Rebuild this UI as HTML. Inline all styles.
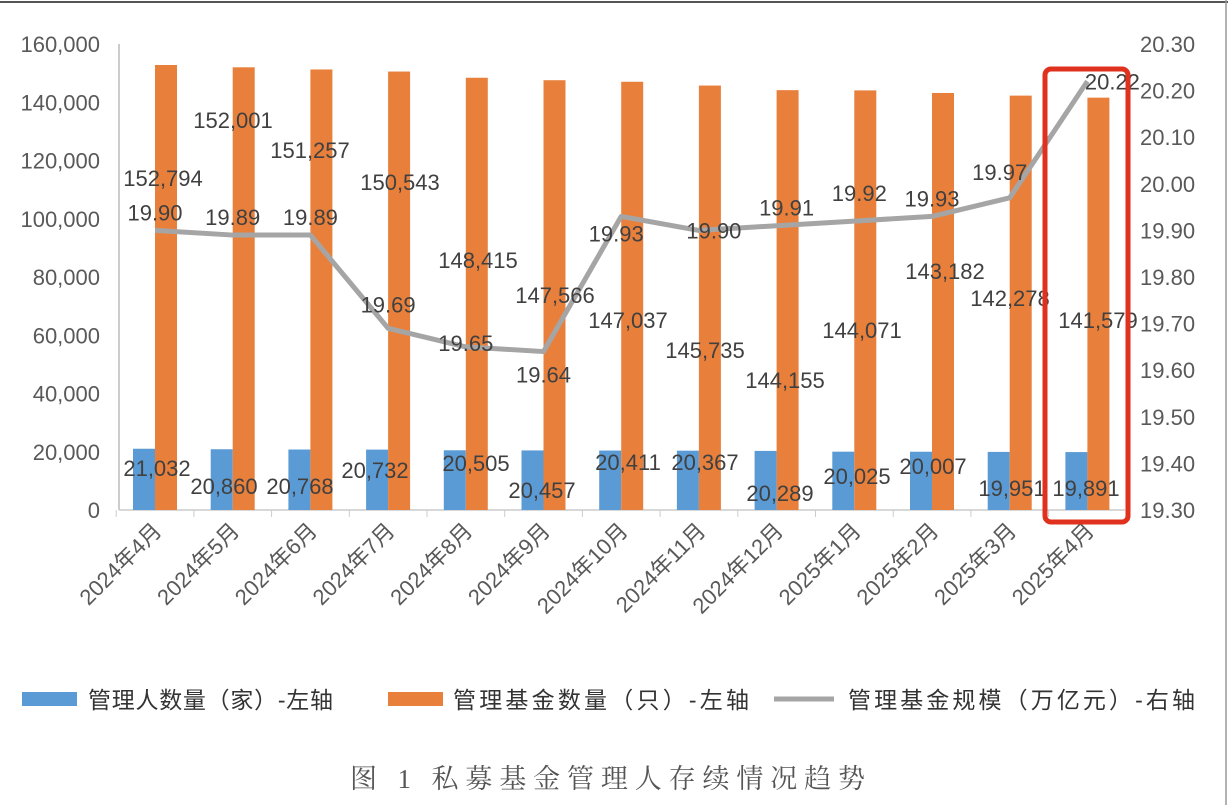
<!DOCTYPE html>
<html><head><meta charset="utf-8"><style>
body{margin:0;background:#fff;width:1228px;height:805px;overflow:hidden}
svg text{font-family:"Liberation Sans","Noto Sans CJK SC",sans-serif}
</style></head><body>
<svg width="1228" height="805">
<rect x="0" y="0" width="1228" height="805" fill="#fff"/>
<line x1="0" y1="2" x2="1228" y2="2" stroke="#555" stroke-width="2"/>
<line x1="1226" y1="0" x2="1226" y2="805" stroke="#999" stroke-width="1.5"/>
<g id="axes"></g><g id="bars"></g><g id="line"></g><g id="labels"></g>
<rect x="1045" y="69" width="83" height="453" rx="6" fill="none" stroke="#e0301e" stroke-width="5"/>
<g font-size="23" fill="#333">
<rect x="22" y="692" width="55" height="14" fill="#5b9bd5"/>
<text x="88" y="708" textLength="245">管理人数量（家）-左轴</text>
<rect x="388" y="692" width="55" height="14" fill="#e8803c"/>
<text x="453" y="708" textLength="296">管理基金数量（只）-左轴</text>
<line x1="774" y1="699" x2="834" y2="699" stroke="#a5a5a5" stroke-width="5"/>
<text x="848" y="708" textLength="347">管理基金规模（万亿元）-右轴</text>
</g>
<text x="350" y="788" textLength="515" font-size="27" fill="#555" style="font-family:'Liberation Serif','Noto Serif CJK SC',serif">图 1  私募基金管理人存续情况趋势</text>
</svg>
<script>
const categories=["2024年4月","2024年5月","2024年6月","2024年7月","2024年8月","2024年9月","2024年10月","2024年11月","2024年12月","2025年1月","2025年2月","2025年3月","2025年4月"];
const managers=[21032,20860,20768,20732,20505,20457,20411,20367,20289,20025,20007,19951,19891];
const funds=[152794,152001,151257,150543,148415,147566,147037,145735,144155,144071,143182,142278,141579];
const scale=[19.90,19.89,19.89,19.69,19.65,19.64,19.93,19.90,19.91,19.92,19.93,19.97,20.22];
const leftTicks=[0,20000,40000,60000,80000,100000,120000,140000,160000];
const rightTicks=[19.3,19.4,19.5,19.6,19.7,19.8,19.9,20.0,20.1,20.2,20.3];
// label placement offsets (styling)
const fundLblPos=[[163,178],[233,120],[310,150],[400,182],[478,260],[555,295],[628,320],[705,350],[785,380],[862,330],[945,271],[1010,298],[1098,320]];
const mgrLblPos=[[157,468],[224,486],[300,486],[375,470],[476,463],[542,490],[628,462],[705,462],[780,493],[857,476],[933,466],[1012,488],[1086,488]];
const scaleLblDy=[-18,-18,-18,-24,-4,23,17,0,-18,-28,-18,-26,0];
const scaleLblDx=[0,0,0,0,0,0,-5,15,10,5,0,-10,25];

const NS="http://www.w3.org/2000/svg";
const y0=510,yTop=44,x0=119,xEnd=1125;
const yL=v=>y0-(v/160000)*(y0-yTop);
const yR=v=>y0-(v-19.3)/1.0*(y0-yTop);
const xC=i=>155+i*77.7;
function mk(tag,attrs,parent,text){const e=document.createElementNS(NS,tag);for(const k in attrs)e.setAttribute(k,attrs[k]);if(text!==undefined)e.textContent=text;document.getElementById(parent).appendChild(e);return e;}
let e;
e=mk('line',{x1:x0,y1:yTop,x2:x0,y2:y0,stroke:'#bbb','stroke-width':1.5},'axes');


e=mk('line',{x1:x0,y1:y0,x2:xEnd,y2:y0,stroke:'#ccc','stroke-width':1.5},'axes');


leftTicks.forEach(v=>{
 e=mk('text',{x:100,y:yL(v)+8,'text-anchor':'end','font-size':22,fill:'#595959'},'axes',v.toLocaleString('en-US'));
 
 
});
rightTicks.forEach(v=>{
 e=mk('text',{x:1140,y:yR(v)+8,'font-size':22,fill:'#595959'},'axes',v.toFixed(2));
 
 
});
categories.forEach((c,i)=>{
 const bx=xC(i)-38.8;
 e=mk('line',{x1:bx,y1:y0,x2:bx,y2:y0+7,stroke:'#ccc'},'axes');
 
 
 e=mk('text',{x:xC(i)+8,y:y0+22,'text-anchor':'end','font-size':22,fill:'#595959',transform:`rotate(-45 ${xC(i)+8} ${y0+22})`},'axes',c);
 
 
 e=mk('rect',{x:xC(i)-22,y:yL(managers[i]),width:22,height:y0-yL(managers[i]),fill:'#5b9bd5'},'bars');
 
 
 e=mk('rect',{x:xC(i),y:yL(funds[i]),width:22,height:y0-yL(funds[i]),fill:'#e8803c'},'bars');
 
 
 e=mk('text',{x:fundLblPos[i][0],y:fundLblPos[i][1]+8,'text-anchor':'middle','font-size':22,fill:'#404040'},'labels',funds[i].toLocaleString('en-US'));
 
 
 e=mk('text',{x:mgrLblPos[i][0],y:mgrLblPos[i][1]+8,'text-anchor':'middle','font-size':22,fill:'#404040'},'labels',managers[i].toLocaleString('en-US'));
 
 
 e=mk('text',{x:xC(i)+scaleLblDx[i],y:yR(scale[i])+scaleLblDy[i]+8,'text-anchor':'middle','font-size':22,fill:'#404040'},'labels',scale[i].toFixed(2));
 
 
});
const pts=scale.map((v,i)=>`${xC(i)},${yR(v)}`).join(' ');
e=mk('polyline',{points:pts,fill:'none',stroke:'#a5a5a5','stroke-width':5,'stroke-linejoin':'round'},'line');


</script>
</body></html>
